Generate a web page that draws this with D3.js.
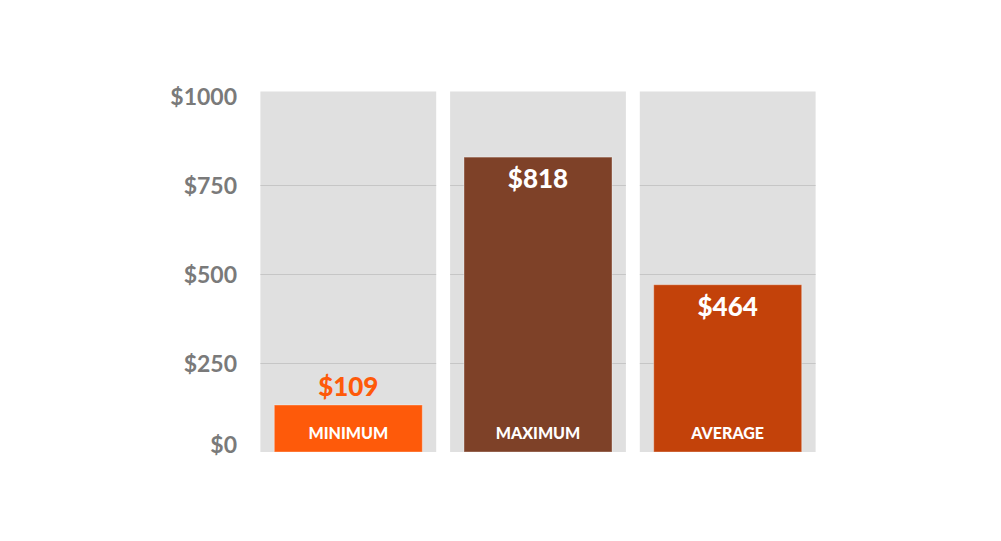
<!DOCTYPE html>
<html><head><meta charset="utf-8">
<script src="https://cdn.jsdelivr.net/npm/d3@7"></script>
<style>
html,body{margin:0;padding:0;background:#fff;}
svg{display:block;font-family:Lato,"Open Sans",sans-serif;}
</style></head>
<body>
<svg id="chart" width="1001" height="541"></svg>
<script>
const categories = ["MINIMUM", "MAXIMUM", "AVERAGE"];
const values = [109, 818, 464];
const colors = ["#fe5a0a", "#7e4128", "#c3420a"];
const tickValues = [0, 250, 500, 750, 1000];
const tickLabels = ["$0", "$250", "$500", "$750", "$1000"];
const domainMax = 1000;

const svg = d3.select("#chart");
const x = d3.scaleBand().domain(categories).range([260.4, 815.6]).paddingInner(0.0733).paddingOuter(0);
const yBar = d3.scaleLinear().domain([0, domainMax]).range([452, 91.5]);
const yGrid = d3.scaleLinear().domain([0, domainMax]).range([452.3, 96.3]);

const data = categories.map((c, i) => ({cat: c, val: values[i], color: colors[i]}));

// background panels (full-scale)
svg.append("g").selectAll("rect").data(data).join("rect")
  .attr("x", d => x(d.cat)).attr("width", x.bandwidth())
  .attr("y", yBar(domainMax)).attr("height", yBar(0) - yBar(domainMax))
  .attr("fill", "#e0e0e0");

// gridlines inside panels
const gridVals = tickValues.filter(v => v > 0 && v < domainMax);
const gg = svg.append("g");
data.forEach(d => {
  gg.selectAll(null).data(gridVals).join("line")
    .attr("x1", x(d.cat)).attr("x2", x(d.cat) + x.bandwidth())
    .attr("y1", v => Math.round(yGrid(v)) + 0.5).attr("y2", v => Math.round(yGrid(v)) + 0.5)
    .attr("stroke", "#c6c6c6").attr("stroke-width", 1);
});

// tick labels
svg.append("g").selectAll("text").data(tickValues).join("text")
  .attr("x", 237)
  .attr("y", (v) => Math.min(yGrid(v), 445))
  .attr("dy", "0.36em")
  .attr("text-anchor", "end")
  .attr("font-size", 23)
  .attr("font-weight", 700)
  .attr("fill", "#7a7a7a")
  .text((v, i) => tickLabels[i]);

// bars
const barW = 148, minH = 47;
const cx = d => x(d.cat) + x.bandwidth() / 2;
const barTop = d => Math.min(yBar(d.val), yBar(0) - minH);
svg.append("g").selectAll("rect").data(data).join("rect")
  .attr("x", d => cx(d) - barW / 2).attr("width", barW)
  .attr("y", d => barTop(d)).attr("height", d => yBar(0) - barTop(d))
  .attr("fill", d => d.color)
  .attr("stroke", "rgba(255,255,255,0.35)").attr("stroke-width", 1);

// category labels
svg.append("g").selectAll("text").data(data).join("text")
  .attr("x", d => cx(d))
  .attr("y", yBar(0) - 13)
  .attr("text-anchor", "middle")
  .attr("font-size", 16).attr("font-weight", 900)
  .attr("fill", "#ffffff")
  .text(d => d.cat);

// value labels
svg.append("g").selectAll("text").data(data).join("text")
  .attr("x", d => cx(d))
  .attr("y", d => {
    const t = barTop(d);
    return (yBar(0) - t) > 80 ? t + 31 : t - 9.5;
  })
  .attr("text-anchor", "middle")
  .attr("font-size", 26).attr("font-weight", 900)
  .attr("fill", d => (yBar(0) - barTop(d)) > 80 ? "#ffffff" : d.color)
  .text(d => "$" + d.val);
</script>
</body></html>
